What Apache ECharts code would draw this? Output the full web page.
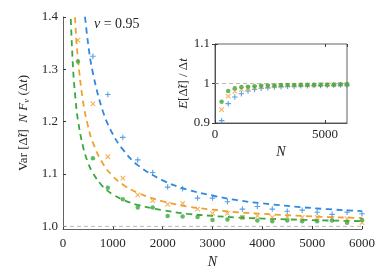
<!DOCTYPE html>
<html><head><meta charset="utf-8">
<script src="https://cdn.jsdelivr.net/npm/echarts@6/dist/echarts.min.js"></script>
<style>html,body{margin:0;padding:0;background:#fff}#c{width:389px;height:278px}</style>
</head><body><div id="c"></div>
<script>
// sample sizes of the simulated points
const N = [300,600,900,1200,1500,1800,2100,2400,2700,3000,3300,3600,3900,4200,4500,4800,5100,5400,5700,6000];
// main panel: normalised variance
const varBlue   = [null,1.325,1.252,1.170,1.127,1.103,1.075,1.072,1.054,1.054,1.047,1.033,1.038,1.033,1.029,1.031,1.027,1.023,1.027,1.024];
const varOrange = [1.356,1.234,1.133,1.092,1.060,1.049,1.042,1.044,1.033,1.025,1.025,1.017,1.020,1.017,1.018,1.017,1.017,1.015,1.015,1.007];
const varGreen  = [1.315,1.130,1.074,1.052,1.036,1.036,1.020,1.019,1.018,1.012,1.013,1.017,1.011,1.010,1.011,1.010,1.010,1.011,1.007,1.012];
// dashed fitted curves
const curveN      = [140,200,250,300,400,500,600,800,1000,1200,1500,2000,2500,3000,3500,4000,5000,6000];
const curveBlue   = [null,null,null,null,1.44,1.352,1.293,1.220,1.176,1.147,1.117,1.088,1.070,1.059,1.050,1.044,1.035,1.029];
const curveOrange = [null,1.48,1.384,1.320,1.240,1.192,1.160,1.120,1.096,1.080,1.064,1.048,1.038,1.032,1.027,1.024,1.019,1.016];
const curveGreen  = [1.436,1.305,1.244,1.203,1.153,1.122,1.102,1.076,1.061,1.051,1.041,1.031,1.024,1.020,1.017,1.015,1.012,1.010];
// inset: normalised mean
const meanBlue   = [0.906,0.949,0.966,0.974,0.981,0.985,0.988,0.989,0.991,0.992,0.993,0.993,0.994,0.994,0.995,0.995,0.995,0.996,0.996,0.996];
const meanOrange = [0.934,0.968,0.980,0.985,0.988,0.990,0.992,0.993,0.994,0.994,0.995,0.995,0.996,0.996,0.996,0.997,0.997,0.997,0.997,0.997];
const meanGreen  = [0.954,0.981,0.988,0.991,0.992,0.993,0.994,0.995,0.995,0.996,0.996,0.996,0.997,0.997,0.997,0.997,0.997,0.997,0.998,0.998];
const mainYTicks = [1.0,1.1,1.2,1.3,1.4];
const refLine = [[0,1],[6000,1]];

const C = {blue:'#3088e0', orange:'#f0a030', green:'#3aa83e'};
const FONT = 'Liberation Serif';
const TXT = '#262626';
const AX = '#3a3a3a';
const zip = (xs, ys) => xs.map((x,i)=>[x, ys[i]]);

const PLUS = 'path://M0,5L10,5M5,0L5,10';
const CROSS = 'path://M1,1L9,9M9,1L1,9';
function marks(data, color, sym, size, xi, yi, bw, z){
  return {type:'scatter', xAxisIndex:xi, yAxisIndex:yi, data:data, symbol:sym, symbolSize:size,
    itemStyle:{color:'transparent', borderColor:color, borderWidth:bw||1.2}, z:z||4, silent:true};
}
function dots(data, color, size, xi, yi, z){
  return {type:'scatter', xAxisIndex:xi, yAxisIndex:yi, data:data, symbol:'circle', symbolSize:size,
    itemStyle:{color:color}, z:z||4, silent:true};
}
function curve(data, color){
  return {type:'line', xAxisIndex:0, yAxisIndex:0, data:data, smooth:0.4, showSymbol:false, clip:true,
    lineStyle:{color:color, width:1.8, type:[6,4.5]}, z:3, silent:true};
}
function ref(xi, yi, z){
  return {type:'line', xAxisIndex:xi, yAxisIndex:yi, data:refLine, showSymbol:false,
    lineStyle:{color:'#a8a8a8', width:0.8, type:[4,3]}, z:z||1, silent:true};
}
const labelStyle = {color:TXT, fontFamily:FONT, fontSize:13};
const plain = v => String(Math.round(v));
const chart = echarts.init(document.getElementById('c'), null, {renderer:'canvas'});
chart.setOption({
  animation:false,
  backgroundColor:'#fff',
  grid:[
    {left:63, right:27, top:17, bottom:49, containLabel:false},
    {left:215, right:42, top:44, bottom:155, containLabel:false, show:true, borderColor:AX, borderWidth:0.8, backgroundColor:'#fff', z:5}
  ],
  xAxis:[
    {gridIndex:0, type:'value', min:0, max:6000, interval:1000,
     axisLine:{lineStyle:{color:AX, width:0.8}}, axisTick:{inside:true, length:3, lineStyle:{color:AX}},
     splitLine:{show:false}, axisLabel:Object.assign({margin:8, formatter:plain}, labelStyle),
     name:'N', nameLocation:'middle', nameGap:22, nameTextStyle:{color:TXT, fontFamily:FONT, fontSize:14, fontStyle:'italic'}},
    {gridIndex:1, type:'value', min:0, max:6000, interval:5000, z:6,
     axisLine:{lineStyle:{color:AX, width:0.8}}, axisTick:{inside:true, length:3, lineStyle:{color:AX}},
     splitLine:{show:false}, axisLabel:Object.assign({margin:5, formatter:plain}, labelStyle),
     name:'N', nameLocation:'middle', nameGap:22, nameTextStyle:{color:TXT, fontFamily:FONT, fontSize:14, fontStyle:'italic'}},
    {gridIndex:1, type:'value', position:'top', min:0, max:6000, interval:5000, z:6,
     axisLine:{show:false}, axisTick:{inside:true, length:3, lineStyle:{color:AX}}, axisLabel:{show:false}, splitLine:{show:false}}
  ],
  yAxis:[
    {gridIndex:0, type:'value', min:0.995, max:1.4,
     axisLine:{show:true, lineStyle:{color:AX, width:0.8}},
     axisTick:{show:true, inside:true, length:3, customValues:mainYTicks, lineStyle:{color:AX}},
     splitLine:{show:false},
     axisLabel:Object.assign({margin:5, customValues:mainYTicks, formatter:v=>v.toFixed(1)}, labelStyle),
     name:'{r|Var [}{r|Δ̃}{i|t}{r|]  }{i|N F}{s|ν}{r| (Δ}{i|t}{r|)}', nameLocation:'middle', nameGap:31,
     nameTextStyle:{color:TXT, fontFamily:FONT, fontSize:13,
       rich:{r:{fontFamily:FONT, fontSize:13, color:TXT}, i:{fontFamily:FONT, fontSize:13, fontStyle:'italic', color:TXT},
             s:{fontFamily:FONT, fontSize:9, fontStyle:'italic', color:TXT, padding:[6,0,0,0]}}}},
    {gridIndex:1, type:'value', min:0.9, max:1.1, interval:0.1, z:6,
     axisLine:{show:true, lineStyle:{color:AX, width:0.8}},
     axisTick:{show:true, inside:true, length:3, lineStyle:{color:AX}},
     splitLine:{show:false},
     axisLabel:Object.assign({margin:5, formatter:v=>{const r=Math.round(v*10)/10; return r===1?'1':r.toFixed(1);}}, labelStyle),
     name:'{i|E}{r|[Δ̃}{i|t}{r|] / Δ}{i|t}', nameLocation:'middle', nameGap:21,
     nameTextStyle:{color:TXT, fontFamily:FONT, fontSize:13,
       rich:{r:{fontFamily:FONT, fontSize:13, color:TXT}, i:{fontFamily:FONT, fontSize:13, fontStyle:'italic', color:TXT}}}},
    {gridIndex:1, type:'value', position:'right', min:0.9, max:1.1, interval:0.1, z:6,
     axisLine:{show:false}, axisTick:{show:true, inside:true, length:3, lineStyle:{color:AX}}, axisLabel:{show:false}, splitLine:{show:false}}
  ],
  graphic:[
    {type:'text', left:94, top:17, z:10, style:{text:'{i|ν} = 0.95', fontFamily:FONT, fontSize:14, fill:TXT,
      rich:{i:{fontFamily:FONT, fontSize:14, fontStyle:'italic', fill:TXT}}}}
  ],
  series:[
    ref(0,0),
    curve(zip(curveN, curveBlue), C.blue),
    curve(zip(curveN, curveOrange), C.orange),
    curve(zip(curveN, curveGreen), C.green),
    marks(zip(N, varBlue), C.blue, PLUS, 5.5, 0, 0, 1.1),
    marks(zip(N, varOrange), C.orange, CROSS, 4.5, 0, 0, 1.1),
    dots(zip(N, varGreen), C.green, 4.5, 0, 0),
    ref(1,1,7),
    marks(zip(N, meanBlue), C.blue, PLUS, 5.5, 1, 1, 1.1, 8),
    marks(zip(N, meanOrange), C.orange, CROSS, 4.5, 1, 1, 1.1, 8),
    dots(zip(N, meanGreen), C.green, 4.5, 1, 1, 8)
  ]
});
</script></body></html>
